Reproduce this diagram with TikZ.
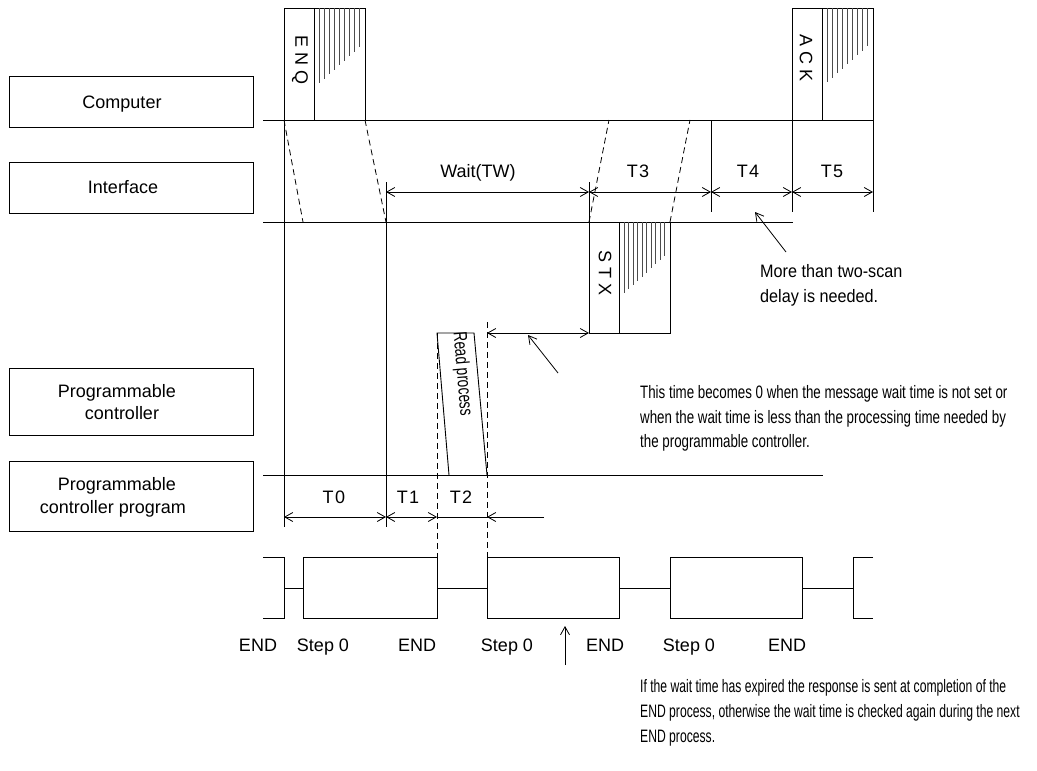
\documentclass[tikz,border=0pt]{standalone}
\usepackage{fontspec}
\setmainfont{Liberation Sans}
\newfontfamily\narrowfont[FakeStretch=0.74]{Liberation Sans}
\newfontfamily\botfont[FakeStretch=0.675]{Liberation Sans}
\newfontfamily\midfont[FakeStretch=0.9]{Liberation Sans}
\newfontfamily\rpfont[FakeStretch=0.72]{Liberation Sans}
\usetikzlibrary{arrows.meta}
\begin{document}
\begin{tikzpicture}[x=1pt,y=-1pt,
  ln/.style={line width=0.9pt},
  hatch/.style={line width=0.8pt, black!70},
  dsh/.style={line width=0.8pt, dash pattern=on 6pt off 4pt},
  lbox/.style={draw, line width=0.9pt, minimum width=244pt, inner sep=0pt},
  lbl/.style={font=\fontsize{18}{22}\selectfont, inner sep=0pt, anchor=base},
  note/.style={font=\narrowfont\fontsize{18}{25}\selectfont, inner sep=0pt, anchor=base west},
  bnote/.style={font=\botfont\fontsize{18}{25}\selectfont, inner sep=0pt, anchor=base west},
  note2/.style={font=\midfont\fontsize{18}{25}\selectfont, inner sep=0pt, anchor=base west},
  vtxt/.style={font=\fontsize{18}{22}\selectfont, inner sep=0pt, rotate=-90},
  barb/.tip={Straight Barb[length=8pt,width=9pt]},
  dim/.style={line width=0.8pt, barb-barb},
  ann/.style={line width=0.8pt, -barb},
]
\useasboundingbox (0,0) rectangle (1037,771);

% ---- left labels ----
\node[lbox, minimum height=51pt] (compbox) at (131,101.5) {};
\node[lbl] (comptxt) at (122,108) {Computer};
\node[lbox, minimum height=51pt] (ifbox) at (131,187.5) {};
\node[lbl] (iftxt) at (123,193) {Interface};
\node[lbox, minimum height=67pt] (pcbox) at (131,401.5) {};
\node[lbl] (pctxt1) at (117,397) {Programmable};
\node[lbl] (pctxt2) at (122,419) {controller};
\node[lbox, minimum height=70pt] (pgbox) at (131,496) {};
\node[lbl] (pgtxt1) at (117,490) {Programmable};
\node[lbl] (pgtxt2) at (113,513) {controller program};

% ---- key coordinates ----
\coordinate (cL) at (263,120); \coordinate (cR) at (873,120);
\coordinate (iL) at (263,222); \coordinate (iR) at (793,222);
\coordinate (pL) at (263,475); \coordinate (pR) at (823,475);
\draw[ln] (cL) -- (cR);
\draw[ln] (iL) -- (iR);
\draw[ln] (pL) -- (pR);

% ---- ENQ frame ----
\draw[ln] (284,8) rectangle (365,120);
\draw[ln] (314,8) -- (314,120);
\foreach \i in {0,...,8} {
  \draw[hatch] ({319.3+5*\i},8) -- ({319.3+5*\i},{83-4.5*\i});
}
\node[vtxt] (enq) at (300,60) {E\hspace{5pt}N\hspace{5pt}Q};

% ---- ACK frame ----
\draw[ln] (792,8) rectangle (873,120);
\draw[ln] (822,8) -- (822,120);
\foreach \i in {0,...,8} {
  \draw[hatch] ({827+5*\i},8) -- ({827+5*\i},{82-4.5*\i});
}
\node[vtxt] (ack) at (806,58) {A\hspace{5pt}C\hspace{5pt}K};

% ---- STX frame ----
\draw[ln] (589,222) rectangle (670,333);
\draw[ln] (619,222) -- (619,333);
\foreach \i in {0,...,9} {
  \draw[hatch] ({624+4.5*\i},222) -- ({624+4.5*\i},{293-4.1*\i});
}
\node[vtxt] (stx) at (605,273) {S\hspace{5pt}T\hspace{5pt}X};

% ---- dashed transfer lines ----
\draw[dsh] (284,120) -- (303,222);
\draw[dsh] (365,120) -- (386,222);
\draw[dsh] (589,222) -- (609,120);
\draw[dsh] (670,222) -- (690,120);
\draw[dsh] (437,333) -- (437,557);
\draw[dsh] (487,322) -- (487,557);

% ---- vertical extension lines ----
\draw[ln] (284,120) -- (284,527);
\draw[ln] (386,182) -- (386,527);
\draw[ln] (589,182) -- (589,222);
\draw[ln] (711,120) -- (711,212);
\draw[ln] (792,120) -- (792,212);
\draw[ln] (873,120) -- (873,212);

% ---- upper dimensions ----
\coordinate (w0) at (386,192); \coordinate (w1) at (589,192);
\coordinate (w2) at (711,192); \coordinate (w3) at (792,192);
\coordinate (w4) at (873,192);
\draw[dim] (w0) -- (w1);
\draw[dim] (w1) -- (w2);
\draw[dim] (w2) -- (w3);
\draw[dim] (w3) -- (w4);
\node[lbl] (wait) at (478,177) {Wait(TW)};
\node[lbl] (t3) at (638,177) {T\hspace{1.5pt}3};
\node[lbl] (t4) at (748,177) {T\hspace{1.5pt}4};
\node[lbl] (t5) at (832,177) {T\hspace{1.5pt}5};

% ---- Read process ----
\draw[ln] (449,475) -- (437,333) -- (474,333) -- (487,475);
\node[font=\rpfont\fontsize{19}{22}\selectfont, inner sep=0pt, rotate=-85.2] (readp) at (462,374) {Read process};

% ---- STX wait arrow ----
\coordinate (s0) at (487,333); \coordinate (s1) at (589,333);
\draw[dim] (s0) -- (s1);
\draw[ann] (558,373) -- (528,335);

% ---- lower dimensions ----
\coordinate (d0) at (284,517); \coordinate (d1) at (386,517);
\coordinate (d2) at (437,517); \coordinate (d3) at (487,517);
\coordinate (d4) at (544,517);
\draw[dim] (d0) -- (d1);
\draw[dim] (d1) -- (d2);
\draw[line width=0.8pt] (d2) -- (d3);
\draw[ann] (d4) -- (d3);
\node[lbl] (t0) at (334,503) {T\hspace{1.5pt}0};
\node[lbl] (t1) at (408,503) {T\hspace{1.5pt}1};
\node[lbl] (t2) at (461,503) {T\hspace{1.5pt}2};

% ---- program waveform ----
\draw[ln] (263,557) -- (284,557) -- (284,618) -- (263,618);
\draw[ln] (284,588) -- (303,588);
\draw[ln] (303,557) rectangle (437,618);
\draw[ln] (437,588) -- (487,588);
\draw[ln] (487,557) rectangle (619,618);
\draw[ln] (619,588) -- (670,588);
\draw[ln] (670,557) rectangle (802,618);
\draw[ln] (802,588) -- (853,588);
\draw[ln] (873,557) -- (853,557) -- (853,618) -- (873,618);

\node[lbl] (e0) at (258,651) {END};
\node[lbl] (s0l) at (323,651) {Step 0};
\node[lbl] (e1) at (417,651) {END};
\node[lbl] (s1l) at (507,651) {Step 0};
\node[lbl] (e2) at (605,651) {END};
\node[lbl] (s2l) at (689,651) {Step 0};
\node[lbl] (e3) at (787,651) {END};

\draw[ann] (565,665) -- (565,626);
\draw[ann] (786,252) -- (755,212);

% ---- notes ----
\node[note2] (m1) at (760,277) {More than two-scan};
\node[note2] (m2) at (760,302) {delay is needed.};
\node[note] (n1) at (640,398) {This time becomes 0 when the message wait time is not set or};
\node[note] (n2) at (640,423) {when the wait time is less than the processing time needed by};
\node[note] (n3) at (640,447) {the programmable controller.};
\node[bnote] (b1) at (640,692) {If the wait time has expired the response is sent at completion of the};
\node[bnote] (b2) at (640,717) {END process, otherwise the wait time is checked again during the next};
\node[bnote] (b3) at (640,742) {END process.};
\end{tikzpicture}
\end{document}
